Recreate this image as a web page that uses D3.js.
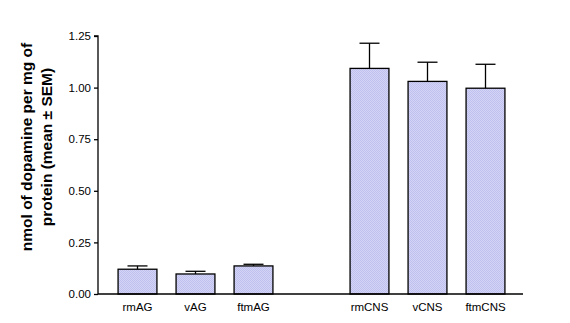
<!DOCTYPE html>
<html>
<head>
<meta charset="utf-8">
<script src="https://cdn.jsdelivr.net/npm/d3@7"></script>
<style>
  body { margin: 0; background: #fff; }
  svg { display: block; font-family: "Liberation Sans", Arial, sans-serif; }
</style>
</head>
<body>
<svg id="canvas"></svg>
<script>
const categories = ["rmAG", "vAG", "ftmAG", "", "rmCNS", "vCNS", "ftmCNS"];
const means = [0.12, 0.097, 0.136, null, 1.093, 1.03, 0.997];
const sems = [0.016, 0.013, 0.008, null, 0.122, 0.093, 0.116];
const yTicks = [0, 0.25, 0.5, 0.75, 1.0, 1.25];

const width = 570;
const height = 323;

const canvas = d3.select("#canvas").attr("width", width).attr("height", height);

const defs = canvas.append("defs");
const pat = defs.append("pattern")
  .attr("id", "dots")
  .attr("width", 2).attr("height", 2)
  .attr("patternUnits", "userSpaceOnUse");
pat.append("rect").attr("width", 2).attr("height", 2).attr("fill", "#d4d4f6");
pat.append("rect").attr("width", 1).attr("height", 1).attr("fill", "#c0c0ee");
pat.append("rect").attr("x", 1).attr("y", 1).attr("width", 1).attr("height", 1).attr("fill", "#c0c0ee");

const xScale = d3.scaleBand()
  .domain(categories)
  .range([108.5, 514.5])
  .paddingInner(0.33)
  .paddingOuter(0.165);

const yScale = d3.scaleLinear()
  .domain([0, 1.25])
  .range([294, 36]);

const data = categories.map((c, i) => ({ cat: c, mean: means[i], sem: sems[i] }))
  .filter(d => d.mean !== null);

// error bars (upper only)
const capW = 20;
canvas.selectAll(".err")
  .data(data)
  .enter()
  .append("g")
  .attr("class", "err")
  .each(function (d) {
    const g = d3.select(this);
    const cx = xScale(d.cat) + xScale.bandwidth() / 2;
    g.append("line")
      .attr("x1", cx).attr("x2", cx)
      .attr("y1", yScale(d.mean)).attr("y2", yScale(d.mean + d.sem))
      .attr("stroke", "#000").attr("stroke-width", 1.3);
    g.append("line")
      .attr("x1", cx - capW / 2).attr("x2", cx + capW / 2)
      .attr("y1", yScale(d.mean + d.sem)).attr("y2", yScale(d.mean + d.sem))
      .attr("stroke", "#000").attr("stroke-width", 1.3);
  });

canvas.selectAll(".bar")
  .data(data)
  .enter()
  .append("rect")
  .attr("class", "bar")
  .attr("x", d => xScale(d.cat))
  .attr("width", xScale.bandwidth())
  .attr("y", d => yScale(d.mean))
  .attr("height", d => yScale(0) - yScale(d.mean))
  .attr("fill", "url(#dots)")
  .attr("stroke", "#000")
  .attr("stroke-width", 1.3);

// y axis
const yAxis = d3.axisLeft(yScale)
  .tickValues(yTicks)
  .tickFormat(d3.format(".2f"))
  .tickSize(4)
  .tickPadding(3);

const yg = canvas.append("g")
  .attr("transform", "translate(98,0)")
  .call(yAxis);
yg.select(".domain").attr("d", `M-4,${yScale(1.25)}H0V${yScale(0)}`).attr("stroke-width", 1.3);
yg.selectAll("text").attr("font-size", 11.5).attr("fill", "#000").attr("font-family", "Liberation Sans, Arial, sans-serif");
yg.selectAll("line").attr("stroke-width", 1.3);

// x axis
const xAxis = d3.axisBottom(xScale).tickSize(0).tickPadding(9);
const xg = canvas.append("g")
  .attr("transform", `translate(0,${yScale(0)})`)
  .call(xAxis);
xg.select(".domain").attr("d", "M98,0H523").attr("stroke-width", 1.3);
xg.selectAll("text").attr("font-size", 11.5).attr("fill", "#000").attr("font-family", "Liberation Sans, Arial, sans-serif");

// y title
const title = canvas.append("text")
  .attr("transform", "translate(32,147) rotate(-90)")
  .attr("text-anchor", "middle")
  .attr("font-weight", "bold")
  .attr("font-size", 15.5)
  .attr("fill", "#000");
title.append("tspan").attr("x", 0).attr("y", 0).text("nmol of dopamine per mg of");
title.append("tspan").attr("x", 0).attr("y", 20).text("protein (mean \u00b1 SEM)");
</script>
</body>
</html>
